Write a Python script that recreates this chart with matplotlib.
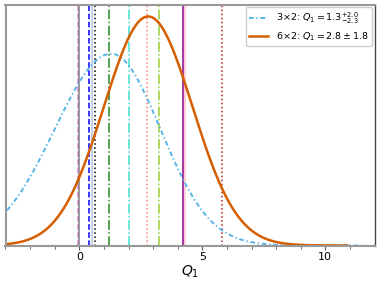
import numpy as np
import matplotlib
matplotlib.use("Agg")
import matplotlib.pyplot as plt

# posterior summaries
labels = [r"3$\times$2: $Q_1 = 1.3^{+2.0}_{-2.3}$", r"6$\times$2: $Q_1 = 2.8 \pm 1.8$"]
means = [1.3, 2.8]
err_up = [2.0, 1.8]
err_lo = [2.3, 1.8]
curve_colors = ["#56B4E9", "#D55E00"]
curve_styles = [(0, (2.4, 1.4, 0.7, 1.4)), "-"]
curve_widths = [1.4, 1.8]

# reference values shown as vertical lines
vline_x = [-0.07, 0.0, 0.40, 0.50, 0.65, 1.21, 2.02, 2.77, 3.23, 4.23, 4.28, 5.81]
vline_colors = ["violet", "gray", "blue", "lightsteelblue", "black", "forestgreen",
                "turquoise", "salmon", "yellowgreen", "darkmagenta", "pink", "firebrick"]
vline_styles = ["--", "-", "--", "-", ":", "-.", "-.", ":", "-.", "-", "-", ":"]


def split_normal(x, mu, s_lo, s_hi):
    norm = 2.0 / (np.sqrt(2 * np.pi) * (s_lo + s_hi))
    s = np.where(x < mu, s_lo, s_hi)
    return norm * np.exp(-0.5 * ((x - mu) / s) ** 2)


fig = plt.figure(figsize=(3.82, 2.84), dpi=100)
ax = fig.add_axes([5.5 / 382, 1 - 245.5 / 284, 369 / 382, 240.5 / 284])

for xv, c, ls in zip(vline_x, vline_colors, vline_styles):
    ax.axvline(xv, color=c, ls=ls, lw=1.1)

peak = 0
for mu, su, sl, c, ls, w, lab in zip(means, err_up, err_lo, curve_colors, curve_styles,
                                     curve_widths, labels):
    smax = max(su, sl)
    x = np.linspace(mu - 4.5 * smax, mu + 4.5 * smax, 500)
    y = split_normal(x, mu, sl, su)
    peak = max(peak, y.max())
    ax.plot(x, y, color=c, ls=ls, lw=w, label=lab)

ax.set_xlim(-3, 12)
ax.set_ylim(0, peak * 1.05)
ax.set_yticks([])
ax.set_xticks([0, 5, 10])
ax.set_xticks(np.arange(-3, 12, 1), minor=True)
ax.tick_params(axis="x", labelsize=8, colors="#555555", labelcolor="black", length=3, width=0.8, pad=2)
ax.tick_params(axis="x", which="minor", length=2, width=0.6, colors="#555555")
ax.set_xlabel(r"$Q_1$", fontsize=10, labelpad=1)

for side in ["left", "top", "bottom"]:
    ax.spines[side].set_color("#999999")
    ax.spines[side].set_linewidth(1.5)
ax.spines["right"].set_color("#444444")
ax.spines["right"].set_linewidth(1.0)

ax.legend(loc="upper right", fontsize=6.8, framealpha=1.0, edgecolor="#cccccc",
          handlelength=2.0, borderpad=0.4, borderaxespad=0.25, labelspacing=0.4)

fig.savefig("out.png", dpi=100)
